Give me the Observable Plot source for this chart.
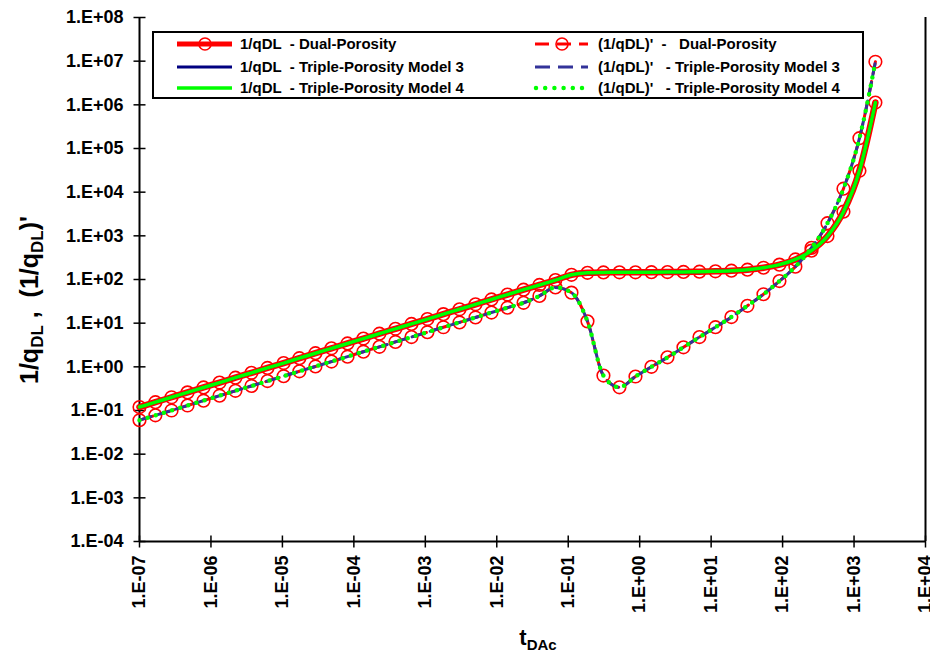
<!DOCTYPE html>
<html><head><meta charset="utf-8">
<script src="https://cdn.jsdelivr.net/npm/d3@7"></script>
<script src="https://cdn.jsdelivr.net/npm/@observablehq/plot@0.6"></script>
<style>
body{margin:0;background:#fff;}
#wrap{position:relative;width:930px;height:656px;font-family:"Liberation Sans",Arial,sans-serif;font-weight:bold;}
#wrap svg text{white-space:pre;}
</style></head>
<body><div id="wrap"></div>
<script>
// Dimensionless time (marker grid)
const tDAc = [1.00e-7,1.67e-7,2.81e-7,4.70e-7,7.87e-7,1.32e-6,2.20e-6,3.69e-6,6.18e-6,1.04e-5,1.73e-5,2.90e-5,4.86e-5,8.15e-5,1.36e-4,2.28e-4,3.82e-4,6.40e-4,1.07e-3,1.79e-3,3.01e-3,5.04e-3,8.43e-3,1.41e-2,2.37e-2,3.95e-2,6.62e-2,0.111,0.186,0.311,0.521,0.873,1.46,2.45,4.10,6.86,11.5,19.2,32.2,54.0,90.4,151,254,425,711,1190,1990];
// 1/qDL
const invQ_dual   = [0.120,0.155,0.201,0.260,0.337,0.436,0.564,0.730,0.944,1.22,1.58,2.05,2.65,3.43,4.44,5.74,7.43,9.62,12.4,16.1,20.8,27.0,34.9,45.2,58.5,75.0,97.0,128,142,145,146,146,147,148,149,151,154,159,168,186,219,288,458,988,3580,30900,1.13e6];
const invQ_model3 = [0.120,0.155,0.201,0.260,0.337,0.436,0.564,0.730,0.944,1.22,1.58,2.05,2.65,3.43,4.44,5.74,7.43,9.62,12.4,16.1,20.8,27.0,34.9,45.2,58.5,75.0,97.0,128,142,145,146,146,147,148,149,151,154,159,168,186,219,288,458,988,3580,30900,1.13e6];
const invQ_model4 = [0.120,0.155,0.201,0.260,0.337,0.436,0.564,0.730,0.944,1.22,1.58,2.05,2.65,3.43,4.44,5.74,7.43,9.62,12.4,16.1,20.8,27.0,34.9,45.2,58.5,75.0,97.0,128,142,145,146,146,147,148,149,151,154,159,168,186,219,288,458,988,3580,30900,1.13e6];
// (1/qDL)'
const dInvQ_dual   = [0.060,0.0776,0.100,0.130,0.168,0.218,0.282,0.365,0.472,0.611,0.791,1.02,1.32,1.71,2.22,2.87,3.72,4.81,6.22,8.06,10.4,13.5,17.5,22.6,29.3,42,66,50,11,0.63,0.34,0.60,1.0,1.65,2.8,4.8,8.1,13.8,25,46,92,197,530,1950,12000,172000,9.7e6];
const dInvQ_model3 = [0.060,0.0776,0.100,0.130,0.168,0.218,0.282,0.365,0.472,0.611,0.791,1.02,1.32,1.71,2.22,2.87,3.72,4.81,6.22,8.06,10.4,13.5,17.5,22.6,29.3,42,66,50,11,0.63,0.34,0.60,1.0,1.65,2.8,4.8,8.1,13.8,25,46,92,197,530,1950,12000,172000,9.7e6];
const dInvQ_model4 = [0.060,0.0776,0.100,0.130,0.168,0.218,0.282,0.365,0.472,0.611,0.791,1.02,1.32,1.71,2.22,2.87,3.72,4.81,6.22,8.06,10.4,13.5,17.5,22.6,29.3,42,66,50,11,0.63,0.34,0.60,1.0,1.65,2.8,4.8,8.1,13.8,25,46,92,197,530,1950,12000,172000,9.7e6];

const xTicks = [1e-7,1e-6,1e-5,1e-4,1e-3,1e-2,1e-1,1e0,1e1,1e2,1e3,1e4];
const yTicks = [1e-4,1e-3,1e-2,1e-1,1e0,1e1,1e2,1e3,1e4,1e5,1e6,1e7,1e8];
const legendLeft  = ["1/qDL  - Dual-Porosity","1/qDL  - Triple-Porosity Model 3","1/qDL  - Triple-Porosity Model 4"];
const legendRight = ["(1/qDL)'  -   Dual-Porosity","(1/qDL)'   - Triple-Porosity Model 3","(1/qDL)'   - Triple-Porosity Model 4"];

const fmt = d => { const e = Math.round(Math.log10(d)); return "1.E" + (e < 0 ? "-" : "+") + String(Math.abs(e)).padStart(2, "0"); };
const hTick = {draw(ctx, size){ const h = Math.sqrt(size / Math.PI); ctx.moveTo(-h, 0); ctx.lineTo(h, 0); }};
const vTick = {draw(ctx, size){ const h = Math.sqrt(size / Math.PI); ctx.moveTo(0, -h); ctx.lineTo(0, h); }};
const RED = "#ff0000", NAVY = "#000080", BLUE = "#333399", GREEN = "#00ff00";
const cv = "monotone-x";

const chart = Plot.plot({
  width: 930, height: 656,
  marginLeft: 139, marginRight: 5, marginTop: 17, marginBottom: 115,
  x: {type: "log", domain: [1e-7, 1e4]},
  y: {type: "log", domain: [1e-4, 1e8]},
  style: {fontFamily: "Liberation Sans, Arial, sans-serif", fontWeight: "bold", fontSize: "18px", color: "#000", background: "#fff"},
  marks: [
    Plot.axisY({ticks: yTicks, tickFormat: fmt, tickSize: 0, tickPadding: 16, label: null, fontSize: 18}),
    Plot.axisX({ticks: xTicks, tickFormat: fmt, tickSize: 0, tickPadding: 14, tickRotate: -90, label: null, fontSize: 18}),
    Plot.ruleX([1e-7], {stroke: "#000", strokeWidth: 2}),
    Plot.ruleX([1e4], {stroke: "#000", strokeWidth: 2}),
    Plot.ruleY([1e-4], {stroke: "#000", strokeWidth: 2}),
    Plot.dot(yTicks, {x: () => 1e-7, y: d => d, symbol: hTick, r: 6, stroke: "#000", strokeWidth: 1.5}),
    Plot.dot(xTicks, {x: d => d, y: () => 1e-4, symbol: vTick, r: 6, stroke: "#000", strokeWidth: 1.5}),
    // Dual porosity markers
    Plot.dot(tDAc, {x: tDAc, y: dInvQ_dual, r: 6.3, stroke: RED, strokeWidth: 1.6, fill: "none"}),
    Plot.dot(tDAc, {x: tDAc, y: invQ_dual, r: 6.3, stroke: RED, strokeWidth: 1.6, fill: "none"}),
    Plot.line(tDAc, {x: tDAc, y: dInvQ_dual, stroke: RED, strokeWidth: 3, strokeDasharray: "14 8", curve: cv}),
    Plot.line(tDAc, {x: tDAc, y: invQ_dual, stroke: RED, strokeWidth: 6.5, curve: cv}),
    // Model 3
    Plot.line(tDAc, {x: tDAc, y: invQ_model3, stroke: NAVY, strokeWidth: 3, curve: cv}),
    Plot.line(tDAc, {x: tDAc, y: dInvQ_model3, stroke: BLUE, strokeWidth: 3, strokeDasharray: "12 7", curve: cv}),
    // Model 4
    Plot.line(tDAc, {x: tDAc, y: invQ_model4, stroke: GREEN, strokeWidth: 3.5, curve: cv}),
    Plot.line(tDAc, {x: tDAc, y: dInvQ_model4, stroke: GREEN, strokeWidth: 4.5, strokeDasharray: "0 8.5", strokeLinecap: "round", curve: cv})
  ]
});
const wrap = d3.select("#wrap");
wrap.node().appendChild(chart);
const svg = d3.select(chart);

// Axis titles
const yt = svg.append("text").attr("transform", "translate(38,300) rotate(-90)").attr("text-anchor", "middle")
  .attr("font-size", 25).attr("font-weight", "bold").attr("fill", "#000");
yt.append("tspan").text("1/q");
yt.append("tspan").attr("font-size", 17).attr("dy", 5).text("DL");
yt.append("tspan").attr("dy", -5).text(" ,  (1/q");
yt.append("tspan").attr("font-size", 17).attr("dy", 5).text("DL");
yt.append("tspan").attr("dy", -5).text(")'");

const xt = svg.append("text").attr("x", 538).attr("y", 645).attr("text-anchor", "middle")
  .attr("font-size", 22).attr("font-weight", "bold").attr("fill", "#000");
xt.append("tspan").text("t");
xt.append("tspan").attr("font-size", 15).attr("dy", 5).text("DAc");

// Legend
const lg = wrap.append("svg").attr("width", 713).attr("height", 69)
  .style("position", "absolute").style("left", "152px").style("top", "31px")
  .style("font-family", "Liberation Sans, Arial, sans-serif").style("font-weight", "bold");
lg.append("rect").attr("x", 1).attr("y", 1).attr("width", 710).attr("height", 66).attr("fill", "#fff").attr("stroke", "#000").attr("stroke-width", 2);
const rowsY = [13, 36, 57];
// left samples
lg.append("line").attr("x1", 25).attr("x2", 80).attr("y1", rowsY[0]).attr("y2", rowsY[0]).attr("stroke", RED).attr("stroke-width", 5);
lg.append("circle").attr("cx", 53).attr("cy", rowsY[0]).attr("r", 6).attr("fill", "none").attr("stroke", RED).attr("stroke-width", 1.6);
lg.append("line").attr("x1", 25).attr("x2", 80).attr("y1", rowsY[1]).attr("y2", rowsY[1]).attr("stroke", NAVY).attr("stroke-width", 3);
lg.append("line").attr("x1", 25).attr("x2", 80).attr("y1", rowsY[2]).attr("y2", rowsY[2]).attr("stroke", GREEN).attr("stroke-width", 3.5);
// right samples
lg.append("line").attr("x1", 383).attr("x2", 436).attr("y1", rowsY[0]).attr("y2", rowsY[0]).attr("stroke", RED).attr("stroke-width", 3).attr("stroke-dasharray", "14 8");
lg.append("circle").attr("cx", 410).attr("cy", rowsY[0]).attr("r", 6).attr("fill", "none").attr("stroke", RED).attr("stroke-width", 1.6);
lg.append("line").attr("x1", 383).attr("x2", 436).attr("y1", rowsY[1]).attr("y2", rowsY[1]).attr("stroke", BLUE).attr("stroke-width", 3).attr("stroke-dasharray", "15 8");
lg.append("line").attr("x1", 384).attr("x2", 431).attr("y1", rowsY[2]).attr("y2", rowsY[2]).attr("stroke", GREEN).attr("stroke-width", 4.5).attr("stroke-dasharray", "0 9.2").attr("stroke-linecap", "round");
legendLeft.forEach((s, i) => lg.append("text").attr("x", 88).attr("y", rowsY[i] + 5).attr("font-size", 15).attr("fill", "#000").text(s));
legendRight.forEach((s, i) => lg.append("text").attr("x", 446).attr("y", rowsY[i] + 5).attr("font-size", 15).attr("fill", "#000").text(s));
</script>
</body></html>
